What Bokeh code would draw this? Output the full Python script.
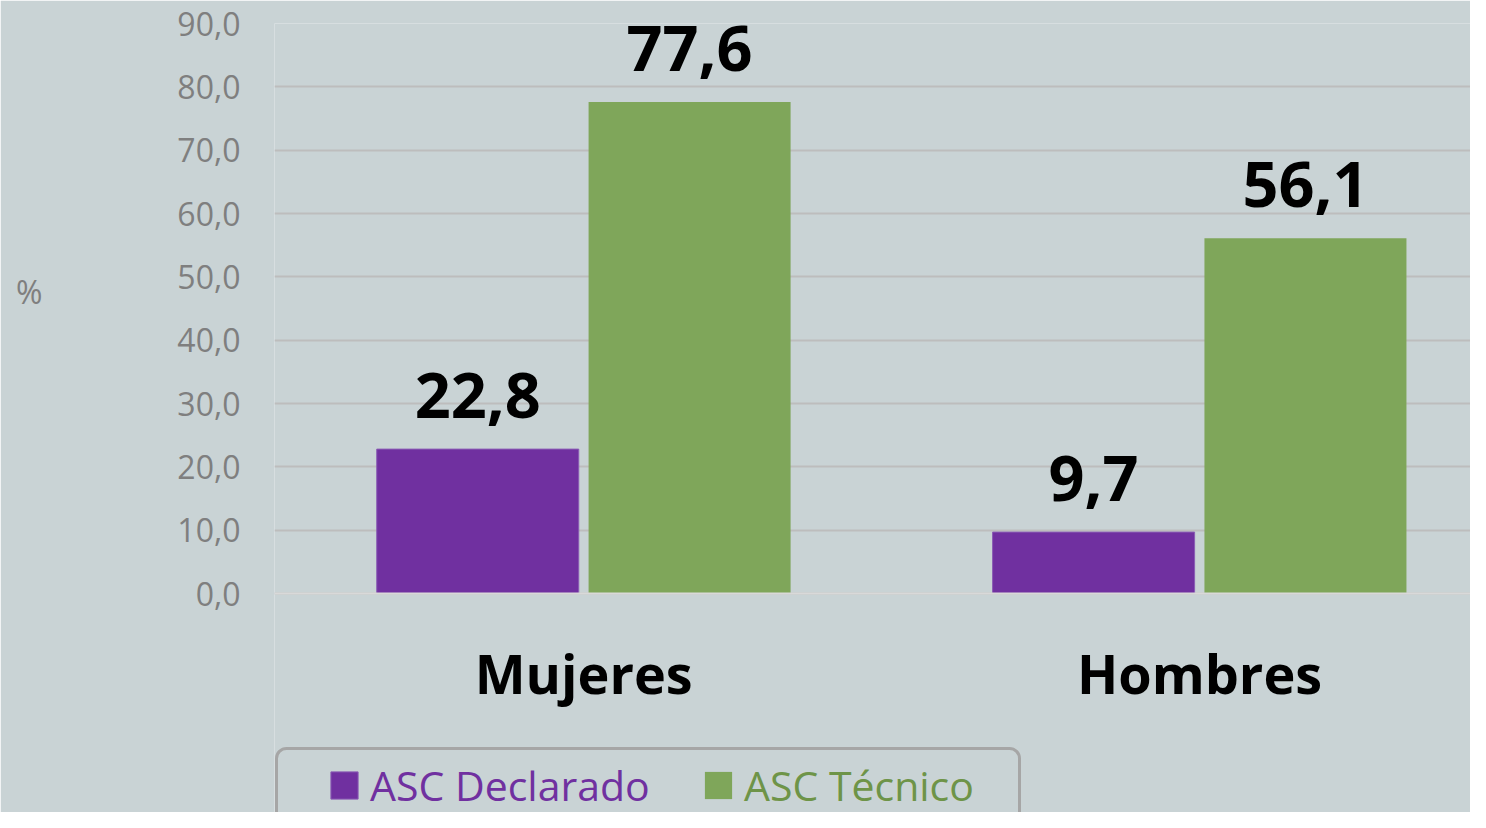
from bokeh.plotting import figure
from bokeh.models import (ColumnDataSource, Range1d, FixedTicker, LabelSet, Legend,
                          LegendItem, BoxAnnotation, LinearAxis, Span)
from bokeh.core.properties import value
from bokeh.transform import dodge
from bokeh.embed import file_html
from bokeh.resources import INLINE

# ---- data ----
categories = ["Mujeres", "Hombres"]
series_names = ["ASC Declarado", "ASC Técnico"]
declarado = [22.8, 9.7]
tecnico = [77.6, 56.1]
y_ticks = [0, 10, 20, 30, 40, 50, 60, 70, 80, 90]
y_tick_labels = ["0,0", "10,0", "20,0", "30,0", "40,0", "50,0", "60,0", "70,0", "80,0", "90,0"]
y_unit = "%"

BG = "#C9D3D5"
PURPLE = "#7030A0"
GREEN = "#7FA65A"
GREEN_TEXT = "#6E9448"
GREY_TXT = "#7F7F7F"
FONT = "Open Sans"


def fmt(v):
    return f"{v:.1f}".replace(".", ",")


pos = [i + 0.5 for i in range(len(categories))]
src = ColumnDataSource(dict(
    x=pos, cat=categories, dec=declarado, tec=tecnico,
    dec_lbl=[fmt(v) for v in declarado], tec_lbl=[fmt(v) for v in tecnico],
))

# frame: left 274, top 23, bottom = canvas bottom; y=0 at 593 px, 90 at 23 px
Y_BOTTOM = -219 / (570 / 90)
p = figure(width=1470, height=812, x_range=Range1d(-0.002, 1.940), y_range=Range1d(Y_BOTTOM, 90),
           output_backend="svg", toolbar_location=None, x_axis_location=None,
           min_border_left=274, min_border_right=0, min_border_top=23, min_border_bottom=0,
           background_fill_color=BG, border_fill_color=BG, outline_line_color=None)

BW = 0.328
OFF = 0.172

p.xgrid.grid_line_color = None
p.ygrid.ticker = FixedTicker(ticks=y_ticks)
p.ygrid.grid_line_color = "#BDBDBD"
p.ygrid.grid_line_width = 2
p.add_layout(Span(location=0, dimension="width", line_color="#D9D9D9", line_width=2))

r1 = p.vbar(x=dodge("x", -OFF), top="dec", width=BW, source=src,
            fill_color=PURPLE, line_color="#8A5CB4", line_width=1)
r2 = p.vbar(x=dodge("x", OFF), top="tec", width=BW, source=src,
            fill_color=GREEN, line_color=None)

for col, lbl, off in (("dec", "dec_lbl", -OFF), ("tec", "tec_lbl", OFF)):
    p.add_layout(LabelSet(x=dodge("x", off), y=col, text=lbl, source=src, y_offset=31,
                          text_align="center", text_baseline="alphabetic",
                          text_font=value(FONT), text_font_style="bold",
                          text_font_size="63px", text_color="black"))

# category labels under the groups
p.add_layout(LabelSet(x="x", y=0, text="cat", source=src, y_offset=-100,
                      text_align="center", text_baseline="alphabetic",
                      text_font=value(FONT), text_font_style="bold",
                      text_font_size="54px", text_color="black"))

# y axis
p.yaxis.ticker = FixedTicker(ticks=y_ticks)
p.yaxis.major_label_overrides = dict(zip(y_ticks, y_tick_labels))
p.yaxis.axis_line_color = None
p.yaxis.major_tick_line_color = None
p.yaxis.minor_tick_line_color = None
p.yaxis.major_label_text_font = FONT
p.yaxis.major_label_text_font_size = "32px"
p.yaxis.major_label_text_color = GREY_TXT
p.yaxis.major_label_standoff = 28

# unit label "%" as an outer axis with one tick
PCT_AT = 47.7
unit_axis = LinearAxis(ticker=FixedTicker(ticks=[PCT_AT]),
                       major_label_overrides={PCT_AT: y_unit},
                       axis_line_color=None, major_tick_line_color=None,
                       minor_tick_line_color=None, major_label_text_font=FONT,
                       major_label_text_font_size="32px", major_label_text_color=GREY_TXT,
                       major_label_standoff=126)
p.add_layout(unit_axis, "left")

# legend frame
p.add_layout(BoxAnnotation(left=276, right=1019, top=748, bottom=900,
                           left_units="canvas", right_units="canvas",
                           top_units="canvas", bottom_units="canvas",
                           fill_color=None, fill_alpha=0, line_color="#A6A6A6",
                           line_alpha=1.0, line_width=3, border_radius=10))

for name, rend, xloc, col in ((series_names[0], r1, 53, PURPLE),
                              (series_names[1], r2, 427, GREEN_TEXT)):
    leg = Legend(items=[LegendItem(label=name, renderers=[rend])], location=(xloc, -1),
                 orientation="horizontal", border_line_color=None, background_fill_alpha=0,
                 padding=0, margin=0, glyph_width=34, glyph_height=34, label_standoff=9,
                 label_text_font=FONT, label_text_font_size="41px", label_text_color=col)
    p.add_layout(leg)

open("out.html", "w").write(file_html(p, INLINE))
